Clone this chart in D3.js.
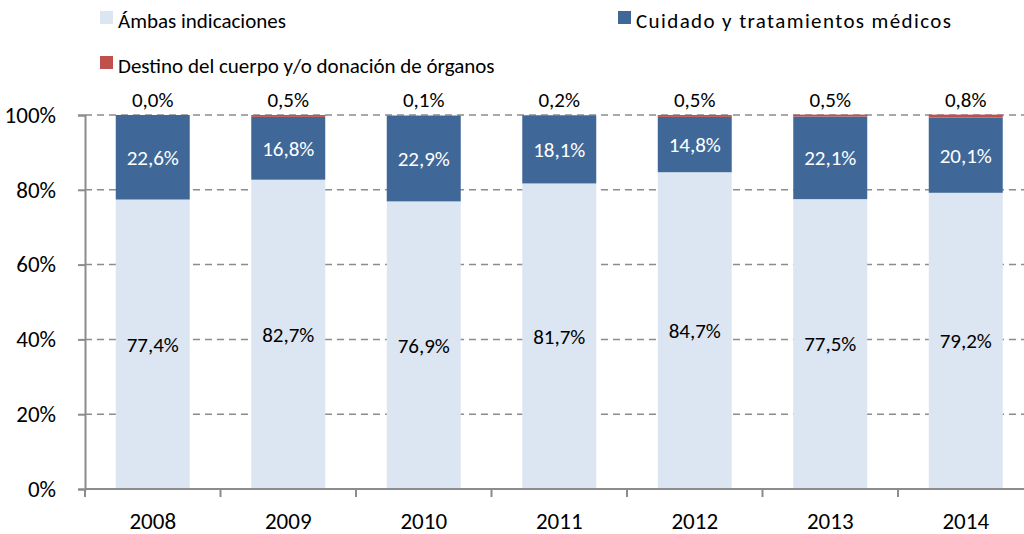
<!DOCTYPE html>
<html><head><meta charset="utf-8">
<script src="https://cdn.jsdelivr.net/npm/d3@7"></script>
<style>
body{margin:0;background:#fff;}
svg{display:block;font-family:Carlito,Calibri,Lato,sans-serif;}
</style></head>
<body><svg id="c" width="1024" height="534"></svg>
<script>
const years = ["2008","2009","2010","2011","2012","2013","2014"];
const ambas = [77.4,82.7,76.9,81.7,84.7,77.5,79.2];
const cuidado = [22.6,16.8,22.9,18.1,14.8,22.1,20.1];
const destino = [0.0,0.5,0.1,0.2,0.5,0.5,0.8];
const seriesNames = ["Ámbas indicaciones","Cuidado y tratamientos médicos","Destino del cuerpo y/o donación de órganos"];
const yTicks = [0,20,40,60,80,100];
const colors = ["#DCE6F2","#3F6899","#C0504D"];

const svg = d3.select("#c");
const x = d3.scaleBand().domain(years).range([85,1033.5]).paddingInner(0.454).paddingOuter(0.227);
const y = d3.scaleLinear().domain([0,100]).range([489,115]);
const fmt = v => v.toFixed(1).replace(".",",")+"%";

// grid
svg.append("g").selectAll("line").data(yTicks.filter(d=>d>0)).join("line")
  .attr("x1",85).attr("x2",1024).attr("y1",d=>y(d)).attr("y2",d=>y(d))
  .attr("stroke","#8c8c8c").attr("stroke-width",1.5).attr("stroke-dasharray","7,5");

const data = years.map((yr,i)=>({yr, vals:[ambas[i],cuidado[i],destino[i]]}));
const g = svg.append("g");
data.forEach((d,i)=>{
  let base=0;
  d.vals.forEach((v,k)=>{
    g.append("rect").attr("x",x(d.yr)).attr("width",x.bandwidth())
      .attr("y",y(base+v)).attr("height",y(base)-y(base+v)).attr("fill",colors[k]);
    if(k<2){
      g.append("text").attr("x",x(d.yr)+x.bandwidth()/2).attr("y",y(base+v/2)).attr("dy","0.35em")
        .attr("text-anchor","middle").attr("font-size",21).attr("fill",k==1?"#fff":"#000").text(fmt(v));
    } else {
      g.append("text").attr("x",x(d.yr)+x.bandwidth()/2).attr("y",y(100)-8)
        .attr("text-anchor","middle").attr("font-size",21).attr("fill","#000").text(fmt(v));
    }
    base+=v;
  });
});

// y axis
const ya = svg.append("g").attr("transform","translate(85,0)").call(d3.axisLeft(y).tickValues(yTicks).tickFormat(d=>d+"%").tickSizeOuter(0).tickSize(7).tickPadding(22));
ya.attr("font-family",null).attr("font-size",null);
ya.select(".domain").attr("stroke","#8c8c8c").attr("stroke-width",2);
ya.selectAll(".tick line").attr("stroke","#8c8c8c").attr("stroke-width",2);
ya.selectAll("text").attr("font-size",23).attr("fill","#000");

// x axis
const xa = svg.append("g").attr("transform","translate(0,489)");
xa.append("line").attr("x1",85).attr("x2",1024).attr("stroke","#8c8c8c").attr("stroke-width",2);
const step = x.step();
xa.selectAll("line.t").data(d3.range(0,8)).join("line").attr("class","t")
  .attr("x1",i=>85+i*step).attr("x2",i=>85+i*step).attr("y1",0).attr("y2",8)
  .attr("stroke","#8c8c8c").attr("stroke-width",2);
xa.selectAll("text").data(years).join("text").attr("x",d=>x(d)+x.bandwidth()/2).attr("y",40)
  .attr("text-anchor","middle").attr("font-size",23).text(d=>d);

// legend
const leg = [{x:100,y:11,w:167},{x:618,y:11,w:315},{x:100,y:56,w:376}];
leg.forEach((p,k)=>{
  svg.append("rect").attr("x",p.x).attr("y",p.y).attr("width",13).attr("height",13).attr("fill",colors[k]);
  const t = svg.append("text").attr("x",p.x+18).attr("y",p.y+17).attr("font-size",21).text(seriesNames[k]);
  const L = t.node().getComputedTextLength();
  const n = seriesNames[k].length;
  if (Math.abs(L - p.w) > 8) t.attr("letter-spacing", ((p.w - L)/(n-1)).toFixed(2));
});
</script></body></html>
